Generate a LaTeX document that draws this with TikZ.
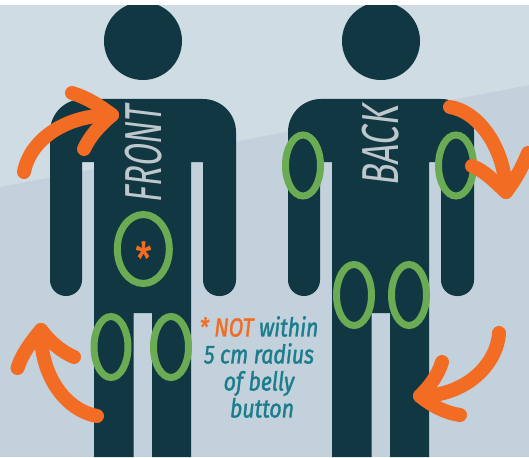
\documentclass[tikz,border=0pt]{standalone}
\usepackage{fontspec}
\usepackage{xcolor}
\usetikzlibrary{positioning}
\newfontfamily\sidefont[FakeStretch=0.62,FakeSlant=0.12]{Fira Sans}
\newfontfamily\backfont[FakeStretch=0.67,FakeSlant=0.12]{Fira Sans}
\newfontfamily\notefont[FakeStretch=0.82,FakeBold=1.4]{Fira Sans}
\definecolor{bgupper}{RGB}{208,220,228}
\definecolor{bglower}{RGB}{194,209,220}
\definecolor{bodyclr}{RGB}{17,55,66}
\definecolor{siteclr}{RGB}{107,171,84}
\definecolor{moveclr}{RGB}{242,108,35}
\definecolor{noteclr}{RGB}{28,124,140}
\definecolor{sideclr}{RGB}{190,200,204}
\tikzset{
  site/.style={draw=siteclr,line width=7pt},
  move/.style={draw=moveclr,line width=14pt,line cap=round,line join=round},
  sidelabel/.style={rotate=90,text=sideclr,inner sep=0pt,font=\sidefont\fontsize{52}{52}\selectfont},
}
\begin{document}
\begin{tikzpicture}[x=1pt, y=-1pt]
\useasboundingbox (0,0) rectangle (529,457);

% Background with its slanted band
\fill[bglower] (0,0) rectangle (529,457);
\fill[bgupper] (0,0) -- (529,0) -- (529,85) -- (0,187) -- cycle;

% Two figures, same outline
\foreach \fx in {0,238} {
  \begin{scope}[xshift=\fx pt]
    \fill[bodyclr] (143,41) circle (39);
    \fill[bodyclr] (50,200) [rounded corners=33] -- (50,99) -- (236,99)
      -- (236,200) [rounded corners=16] -- (236,296) -- (203,296)
      [sharp corners] -- (203,162) -- (191,162) -- (191,457) -- (152,457) -- (152,313)
      -- (133.5,313) -- (133.5,457) -- (94,457) -- (94,162) -- (82,162)
      [rounded corners=16] -- (82,296) -- (50,296) [sharp corners] -- cycle;
  \end{scope}
}
\fill[white] (0,0) rectangle (529,5);

% Side labels
\node[sidelabel] (front) at (144,155) {FRONT};
\node[sidelabel,font=\backfont\fontsize{52}{52}\selectfont] (back) at (381,146.5) {BACK};

% Injection sites
\draw[site] (143.3,249) ellipse (26 and 34.5);
\draw[site] (111,347) ellipse (17 and 30.5);
\draw[site] (171,347) ellipse (17.5 and 30.5);
\draw[site] (303,165.5) ellipse (17.5 and 30.5);
\draw[site] (456,165.5) ellipse (17.5 and 30.5);
\draw[site] (354,295) ellipse (17.5 and 30.5);
\draw[site] (409,295) ellipse (17.5 and 30.5);

% Rotation arrows
\draw[move] (24,172) .. controls (30,140) and (65,115) .. (112,115);
\draw[move] (72,93) .. controls (88,98) and (100,106) .. (112,115)
  .. controls (100,125) and (90,136) .. (84,149);
\draw[move] (97,416) .. controls (65,410) and (40,375) .. (41,330);
\draw[move] (17.5,368) .. controls (22,354) and (31,342) .. (41,330)
  .. controls (50,342) and (62,352) .. (74,357);
\draw[move] (450,107) .. controls (480,112) and (505,150) .. (506,192);
\draw[move] (528,153) .. controls (522,168) and (515,180) .. (506,192)
  .. controls (495,182) and (485,171) .. (472,166);
\draw[move] (499,333) .. controls (497,365) and (465,396) .. (420,396);
\draw[move] (442,362) .. controls (438,375) and (430,386) .. (420,396)
  .. controls (432,406) and (446,413) .. (460,415);

% Belly note
\node[text=moveclr,inner sep=0pt,font=\notefont\fontsize{44}{44}\selectfont] (star) at (143.5,258) {*};
\node[text=noteclr,align=center,inner sep=0pt,anchor=north,
      font=\notefont\itshape\fontsize{26}{27}\selectfont] (note) at (259,316)
  {\textcolor{moveclr}{* NOT} within\\5 cm radius\\of belly\\\hspace*{6pt}button};
\end{tikzpicture}
\end{document}
